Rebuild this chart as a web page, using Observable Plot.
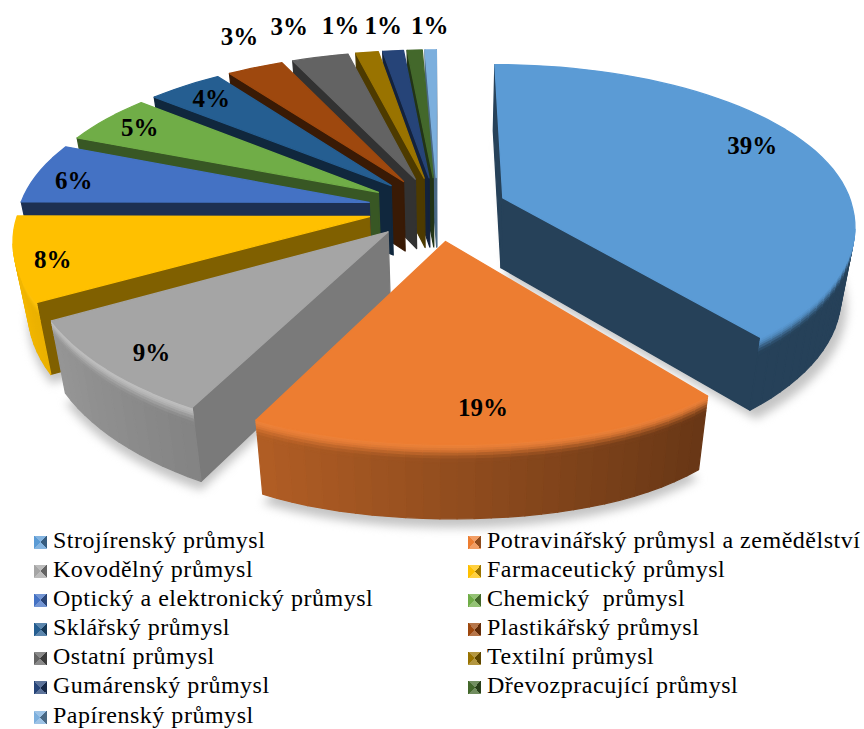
<!DOCTYPE html>
<html><head><meta charset="utf-8">
<script src="https://cdn.jsdelivr.net/npm/d3@7"></script>
<script src="https://cdn.jsdelivr.net/npm/@observablehq/plot@0.6"></script>
<style>
html,body{margin:0;padding:0;background:#fff;width:864px;height:729px;overflow:hidden}
#chart{position:absolute;left:0;top:0}
#legend{position:absolute;left:34px;top:526px;width:830px;display:grid;grid-template-columns:434px 396px;grid-auto-rows:29.1px;font:24px/29.1px "Liberation Serif",serif;letter-spacing:.52px;color:#000;white-space:pre}
#legend i{display:inline-block;width:13px;height:13px;margin-right:6px;vertical-align:-1px}
</style></head><body>
<div id="chart"></div><div id="legend"></div>
<script>
const categories = ["Strojírenský průmysl","Potravinářský průmysl a zemědělství","Kovodělný průmysl","Farmaceutický průmysl","Optický a elektronický průmysl","Chemický  průmysl","Sklářský průmysl","Plastikářský průmysl","Ostatní průmysl","Textilní průmysl","Gumárenský průmysl","Dřevozpracující průmysl","Papírenský průmysl"];
const shares = [38.7,18.6,9,8,6,5,4,3,3,1.2,1.1,.8,.6];
const labels = ["39%","19%","9%","8%","6%","5%","4%","3%","3%","1%","1%","1%",""];
const colors = ["#5B9BD5","#ED7D31","#A5A5A5","#FFC000","#4472C4","#70AD47","#255E91","#9E480E","#636363","#997300","#264478","#43682B","#7CAFDD"];
const cutShade = [.42,.5,.74,.5,.42,.5,.42,.36,.5,.5,.5,.5,.6];
const bevelLight = [0,.04,.3,.05,0,0,0,0,0,0,0,0,0];
const labelRho = [.84,.83,.875,.90,.88,.87,.86,1.284,1.30,1.26,1.233,1.222,1];
const labelTurn = [-5,.1,-1.5,-2,-2,0,0,3.4,-1,-2.2,-.4,3,0];

// Projection of the tilted pie onto the page
const X0=437,Y0=208,A=350,B=160,P=.175,Q=.14,EXPLODE=.2;
const proj=(U,V,z=0)=>{
  let x=X0+A*U/(1+Q*V)+6*Math.max(0,-V);
  let y=Y0-B*V/(1+P*V);
  if(V<-1) y-=175*(V+1)*(V+1);
  x-=(x-450)*.035*z;
  y+=z*70/(1+.05*V);
  return [x,y];
};
const dir=t=>[Math.sin(t*Math.PI/180),Math.cos(t*Math.PI/180)];
const mix=(c1,c2,t)=>d3.interpolateRgb(c1,c2)(t);
const shade=(c,f)=>mix("#000",c,f);

const total=d3.sum(shares);
let acc=0;
const slices=shares.map((s,i)=>{const a0=acc/total*360;acc+=s;const a1=acc/total*360;const mid=(a0+a1)/2;const e=dir(mid);
  return {i,a0,a1,mid,ox:EXPLODE*e[0],oy:EXPLODE*e[1]};});
const order=[...slices].sort((p,q)=>q.oy-p.oy);

const shadow=[],rows=[];let nid=0;
const poly=(arr,pts,fill)=>{const id=nid++;pts.forEach(p=>arr.push({id,x:p[0],y:p[1],fill}));};
const bands=[0,.03,.06,.09,.12,.16,.2,.25,1];
for(const s of order){
  const c=colors[s.i];
  const rim=[];const n=Math.max(2,Math.ceil((s.a1-s.a0)/2.5));
  for(let k=0;k<=n;k++){const t=s.a0+(s.a1-s.a0)*k/n;const d=dir(t);rim.push([s.ox+d[0],s.oy+d[1]]);}
  const apex=[s.ox,s.oy];
  const P2=(p,z)=>proj(p[0],p[1],z);
  // shadow under the four large front slices
  if(s.i<4) poly(shadow,[apex,...rim].map(p=>{const q=P2(p,1);return [q[0]+(s.i==0?6:0),q[1]+9];}),"#c4c4c4");
  // cut faces
  const cut=shade(c,cutShade[s.i]);
  const face=(a,b)=>{if(P2(b,0)[0]<P2(a,0)[0]) poly(rows,[P2(a,0),P2(b,0),P2(b,1),P2(a,1)],cut);};
  face(apex,rim[0]);face(rim[n],apex);
  // outer wall, shaded across the pie and with a soft bevel under the rim
  const light=mix(c,"#fff",bevelLight[s.i]);
  for(let k=0;k<n;k++){
    const a=rim[k],b=rim[k+1];
    if(P2(b,0)[0]>=P2(a,0)[0]) continue;
    const f=Math.max(.42,Math.min(.95,.62-.28*(a[0]+b[0])/2));
    const wall=s.i==0?shade(c,.42):shade(c,f);
    for(let j=0;j<bands.length-1;j++){
      const z0=bands[j],z1=bands[j+1];
      const m=j==bands.length-2?1:d3.easeQuadInOut((z0+z1)/2/.25);
      poly(rows,[P2(a,z0),P2(b,z0),P2(b,z1),P2(a,z1)],mix(light,wall,m));
    }
  }
  // top face
  poly(rows,[apex,...rim].map(p=>P2(p,0)),c);
}
const labelData=slices.filter(s=>labels[s.i]).map(s=>{const d=dir(s.mid+labelTurn[s.i]);const r=labelRho[s.i];const q=proj(s.ox+r*d[0],s.oy+r*d[1],0);return {x:q[0],y:q[1],text:labels[s.i]};});

const plot=Plot.plot({width:864,height:526,margin:0,style:{background:"transparent",overflow:"visible"},
  x:{domain:[0,864],range:[0,864],axis:null},y:{domain:[0,526],range:[0,526],axis:null},
  color:{type:"identity"},
  marks:[
    Plot.line(shadow,{x:"x",y:"y",z:"id",fill:"fill",stroke:"none",curve:"linear-closed",imageFilter:"blur(5px)"}),
    Plot.line(rows,{x:"x",y:"y",z:"id",fill:"fill",stroke:"fill",strokeWidth:1.3,strokeLinejoin:"round",curve:"linear-closed"}),
    Plot.text(labelData,{x:"x",y:"y",text:"text",fill:"#000",fontSize:25,fontWeight:"bold",fontFamily:"Liberation Serif",lineAnchor:"middle",textAnchor:"middle"})
  ]});
document.getElementById("chart").append(plot);
const lg=document.getElementById("legend");
categories.forEach((name,i)=>{const d=document.createElement("div");const sw=document.createElement("i");
  const c=colors[i],li=mix(c,"#fff",.25),da=shade(c,.6);
  sw.style.background=`conic-gradient(from -45deg,${li} 0 90deg,${da} 90deg 180deg,${li} 180deg 270deg,${c} 270deg 360deg)`;
  d.append(sw,name);lg.append(d);});
</script></body></html>
